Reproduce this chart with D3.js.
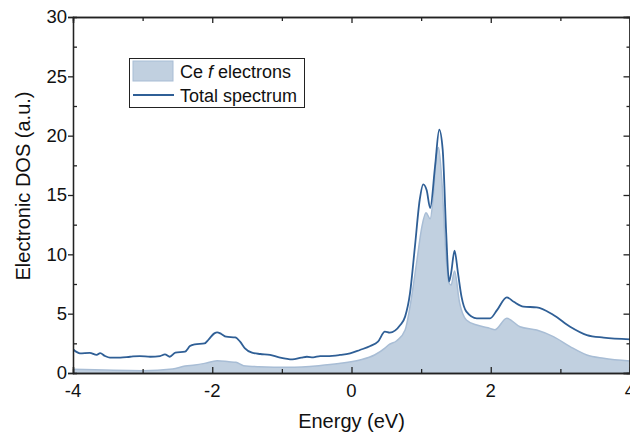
<!DOCTYPE html>
<html lang="en">
<head>
<meta charset="UTF-8">
<title>Electronic DOS</title>
<script src="https://d3js.org/d3.v7.min.js"></script>
<style>
  body { margin: 0; background: #fff; }
  svg { display: block; font-family: Arial, "Liberation Sans", sans-serif; }
  .tick-label { font-size: 18.5px; fill: #111; }
  .axis-title { font-size: 20px; fill: #111; }
  .legend-text { font-size: 18px; fill: #111; }
</style>
</head>
<body>
<div id="chart"></div>
<script>
// total spectrum, energy (eV) and DOS (a.u.)
const totalEnergy = [-4.0, -3.9, -3.76, -3.66, -3.61, -3.54, -3.47, -3.32, -3.18, -3.04, -2.89, -2.75, -2.68, -2.61, -2.53, -2.39, -2.32, -2.25, -2.11, -2.05, -1.97, -1.93, -1.87, -1.80, -1.67, -1.60, -1.53, -1.43, -1.31, -1.17, -1.04, -0.85, -0.72, -0.64, -0.55, -0.45, -0.35, -0.17, -0.02, 0.12, 0.27, 0.38, 0.48, 0.55, 0.70, 0.77, 0.84, 0.91, 0.98, 1.03, 1.08, 1.13, 1.20, 1.26, 1.31, 1.36, 1.40, 1.43, 1.48, 1.53, 1.58, 1.65, 1.80, 1.99, 2.09, 2.23, 2.33, 2.47, 2.66, 2.90, 3.14, 3.38, 3.62, 4.0];
const totalDos = [2.0, 1.66, 1.7, 1.52, 1.68, 1.43, 1.29, 1.3, 1.37, 1.43, 1.37, 1.43, 1.57, 1.37, 1.71, 1.8, 2.27, 2.42, 2.5, 2.84, 3.34, 3.43, 3.29, 3.06, 3.0, 2.64, 2.08, 1.71, 1.6, 1.52, 1.32, 1.15, 1.3, 1.37, 1.32, 1.43, 1.43, 1.52, 1.66, 1.94, 2.27, 2.64, 3.48, 3.4, 4.04, 4.75, 6.7, 10.6, 14.6, 15.9, 15.4, 13.9, 17.4, 20.5, 18.8, 11.8, 7.7, 8.4, 10.3, 8.4, 6.43, 5.17, 4.61, 4.6, 5.3, 6.38, 6.0, 5.59, 5.53, 4.89, 3.9, 3.2, 2.98, 2.84];

// Ce f-electron contribution
const ceEnergy = [-4.0, -3.0, -2.57, -2.39, -2.25, -2.11, -1.93, -1.76, -1.66, -1.55, -1.33, -0.90, -0.47, -0.18, 0.12, 0.33, 0.48, 0.53, 0.65, 0.77, 0.84, 0.94, 1.01, 1.07, 1.13, 1.17, 1.22, 1.25, 1.30, 1.35, 1.40, 1.43, 1.48, 1.55, 1.65, 1.80, 1.99, 2.06, 2.23, 2.42, 2.66, 2.90, 3.14, 3.38, 3.62, 4.0];
const ceDos = [0.31, 0.2, 0.34, 0.59, 0.67, 0.81, 1.04, 0.95, 0.9, 0.62, 0.53, 0.48, 0.62, 0.8, 1.1, 1.52, 2.1, 2.36, 2.72, 3.62, 5.59, 9.5, 12.3, 13.5, 13.0, 14.6, 18.4, 19.0, 16.0, 10.5, 7.6, 7.4, 8.6, 6.0, 4.47, 4.04, 3.76, 3.65, 4.61, 3.9, 3.62, 3.06, 2.22, 1.52, 1.24, 1.01];

const xMajor = [-4, -2, 0, 2, 4];
const xMinor = [-3, -1, 1, 3];
const yMajor = [0, 5, 10, 15, 20, 25, 30];
const yMinor = [2.5, 7.5, 12.5, 17.5, 22.5, 27.5];

const width = 630, height = 434;
const margin = { top: 17, right: 0, bottom: 61, left: 73 };

const svg = d3.select("#chart").append("svg")
  .attr("width", width)
  .attr("height", height);

const x = d3.scaleLinear().domain([-4, 4]).range([margin.left, width - margin.right]);
const y = d3.scaleLinear().domain([0, 30]).range([height - margin.bottom, margin.top]);

const lineColor = "#2f5f96";
const fillColor = "#c1d0e0";
const fillEdge = "#a8bdd5";

const total = totalEnergy.map((e, i) => ({ e, v: totalDos[i] }));
const ce = ceEnergy.map((e, i) => ({ e, v: ceDos[i] }));

svg.append("defs").append("clipPath").attr("id", "plot-clip")
  .append("rect")
  .attr("x", x(-4)).attr("y", y(30))
  .attr("width", x(4) - x(-4)).attr("height", y(0) - y(30));

const plot = svg.append("g").attr("clip-path", "url(#plot-clip)");

plot.append("path")
  .datum(ce)
  .attr("fill", fillColor)
  .attr("d", d3.area().x(d => x(d.e)).y0(y(0)).y1(d => y(d.v)).curve(d3.curveMonotoneX));

plot.append("path")
  .datum(ce)
  .attr("fill", "none")
  .attr("stroke", fillEdge)
  .attr("stroke-width", 1.5)
  .attr("d", d3.line().x(d => x(d.e)).y(d => y(d.v)).curve(d3.curveMonotoneX));

plot.append("path")
  .datum(total)
  .attr("fill", "none")
  .attr("stroke", lineColor)
  .attr("stroke-width", 1.8)
  .attr("d", d3.line().x(d => x(d.e)).y(d => y(d.v)).curve(d3.curveMonotoneX));

// axes: frame with inward ticks
const axisColor = "#222";
const bottomAxis = svg.append("g").attr("transform", `translate(0,${y(0)})`);
bottomAxis.call(d3.axisBottom(x).tickValues(xMajor).tickSize(-6).tickFormat(""));
bottomAxis.append("g").call(d3.axisBottom(x).tickValues(xMinor).tickSize(-4).tickFormat(""));

const topAxis = svg.append("g").attr("transform", `translate(0,${y(30)})`);
topAxis.call(d3.axisTop(x).tickValues(xMajor).tickSize(-6).tickFormat(""));
topAxis.append("g").call(d3.axisTop(x).tickValues(xMinor).tickSize(-4).tickFormat(""));

const leftAxis = svg.append("g").attr("transform", `translate(${x(-4)},0)`);
leftAxis.call(d3.axisLeft(y).tickValues(yMajor).tickSize(5).tickFormat(""));
leftAxis.append("g").call(d3.axisLeft(y).tickValues(yMinor).tickSize(-4).tickFormat(""));

const rightAxis = svg.append("g").attr("transform", `translate(${x(4) - 0.5},0)`);
rightAxis.call(d3.axisRight(y).tickValues(yMajor).tickSize(-6).tickFormat(""));
rightAxis.append("g").call(d3.axisRight(y).tickValues(yMinor).tickSize(-3).tickFormat(""));

svg.selectAll(".domain").attr("stroke", axisColor).attr("stroke-width", 1.3);
svg.selectAll(".tick line").attr("stroke", axisColor).attr("stroke-width", 1.3);

// tick labels
svg.append("g").selectAll("text")
  .data(xMajor).join("text")
  .attr("class", "tick-label")
  .attr("x", d => x(d))
  .attr("y", y(0) + 24)
  .attr("text-anchor", "middle")
  .text(d => d);

svg.append("g").selectAll("text")
  .data(yMajor).join("text")
  .attr("class", "tick-label")
  .attr("x", x(-4) - 6)
  .attr("y", d => y(d))
  .attr("dy", "0.35em")
  .attr("text-anchor", "end")
  .text(d => d);

// axis titles
svg.append("text")
  .attr("class", "axis-title")
  .attr("x", (x(-4) + x(4)) / 2)
  .attr("y", 428)
  .attr("text-anchor", "middle")
  .text("Energy (eV)");

svg.append("text")
  .attr("class", "axis-title")
  .attr("transform", "translate(30,186) rotate(-90)")
  .attr("text-anchor", "middle")
  .text("Electronic DOS (a.u.)");

// legend
const legend = svg.append("g");
legend.append("rect")
  .attr("x", 129.5).attr("y", 58.5)
  .attr("width", 175).attr("height", 49)
  .attr("fill", "#fff")
  .attr("stroke", axisColor)
  .attr("stroke-width", 1);
legend.append("rect")
  .attr("x", 133).attr("y", 61)
  .attr("width", 40).attr("height", 20)
  .attr("fill", fillColor)
  .attr("stroke", fillEdge)
  .attr("stroke-width", 1);
legend.append("line")
  .attr("x1", 133).attr("x2", 174)
  .attr("y1", 95).attr("y2", 95)
  .attr("stroke", lineColor)
  .attr("stroke-width", 1.8);

const ceLabel = legend.append("text")
  .attr("class", "legend-text")
  .attr("x", 180).attr("y", 78);
ceLabel.append("tspan").text("Ce ");
ceLabel.append("tspan").attr("font-style", "italic").text("f");
ceLabel.append("tspan").text(" electrons");

legend.append("text")
  .attr("class", "legend-text")
  .attr("x", 180).attr("y", 101.5)
  .text("Total spectrum");
</script>
</body>
</html>
